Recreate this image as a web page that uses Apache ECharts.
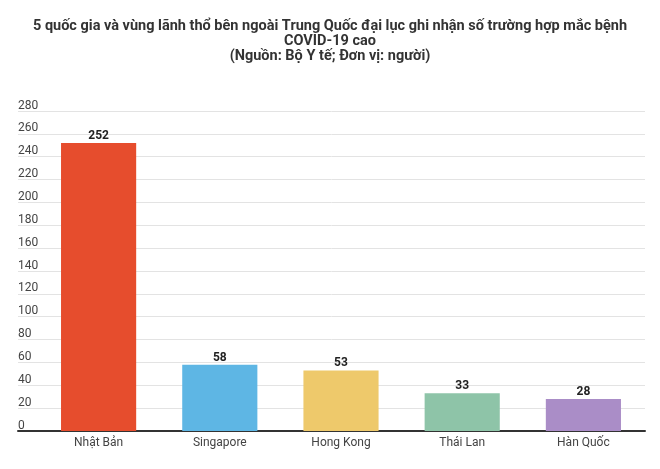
<!DOCTYPE html>
<html>
<head>
<meta charset="utf-8">
<script src="https://cdn.jsdelivr.net/npm/echarts@6/dist/echarts.min.js"></script>
<style>
  html, body { margin: 0; padding: 0; background: #fff; }
  #chart { width: 660px; height: 469px; }
</style>
</head>
<body>
<div id="chart"></div>
<script>
// du lieu
var countries = ['Nhật Bản', 'Singapore', 'Hong Kong', 'Thái Lan', 'Hàn Quốc'];
var cases = [252, 58, 53, 33, 28];
var barColors = ['#E64D2D', '#5EB6E4', '#EEC96B', '#8EC4A8', '#AA8DC7'];

var chart = echarts.init(document.getElementById('chart'));

var option = {
    animation: false,
    title: {
        text: '5 quốc gia và vùng lãnh thổ bên ngoài Trung Quốc đại lục ghi nhận số trường hợp mắc bệnh\nCOVID-19 cao\n(Nguồn: Bộ Y tế; Đơn vị: người)',
        left: 'center',
        top: 14,
        textStyle: {
            fontFamily: 'Liberation Sans Narrow, Roboto, sans-serif',
            fontSize: 14.5,
            fontWeight: 'bold',
            color: '#333',
            lineHeight: 15
        }
    },
    grid: [
        // luoi nen cho truc y
        { left: 18, right: 15, top: 111, bottom: 38 },
        // cot
        { left: 38, right: 16, top: 111, bottom: 38 }
    ],
    xAxis: [
        {
            gridIndex: 0,
            type: 'category',
            data: [''],
            axisLine: { lineStyle: { color: '#333', width: 2 } },
            axisTick: { show: false },
            axisLabel: { show: false }
        },
        {
            gridIndex: 1,
            type: 'category',
            data: countries,
            axisLine: { show: false },
            axisTick: { show: false },
            axisLabel: {
                color: '#444',
                fontSize: 12,
                fontFamily: 'Roboto, sans-serif',
                margin: 6
            }
        }
    ],
    yAxis: [
        {
            gridIndex: 0,
            type: 'value',
            min: 0,
            max: 280,
            interval: 20,
            axisLine: { show: false },
            axisTick: { show: false },
            axisLabel: {
                inside: true,
                margin: 0,
                verticalAlign: 'bottom',
                lineHeight: 11,
                color: '#444',
                fontSize: 12,
                fontFamily: 'Roboto, sans-serif'
            },
            splitLine: { lineStyle: { color: '#e3e3e3', width: 1 } }
        },
        {
            gridIndex: 1,
            type: 'value',
            min: 0,
            max: 280,
            interval: 20,
            show: false
        }
    ],
    series: [
        {
            type: 'bar',
            xAxisIndex: 1,
            yAxisIndex: 1,
            barCategoryGap: '38%',
            data: cases.map(function (v, i) {
                return { value: v, itemStyle: { color: barColors[i] } };
            }),
            label: {
                show: true,
                position: 'top',
                distance: 1,
                color: '#222',
                fontWeight: 'bold',
                fontSize: 12,
                fontFamily: 'Roboto, sans-serif'
            }
        }
    ]
};

chart.setOption(option);
</script>
</body>
</html>
